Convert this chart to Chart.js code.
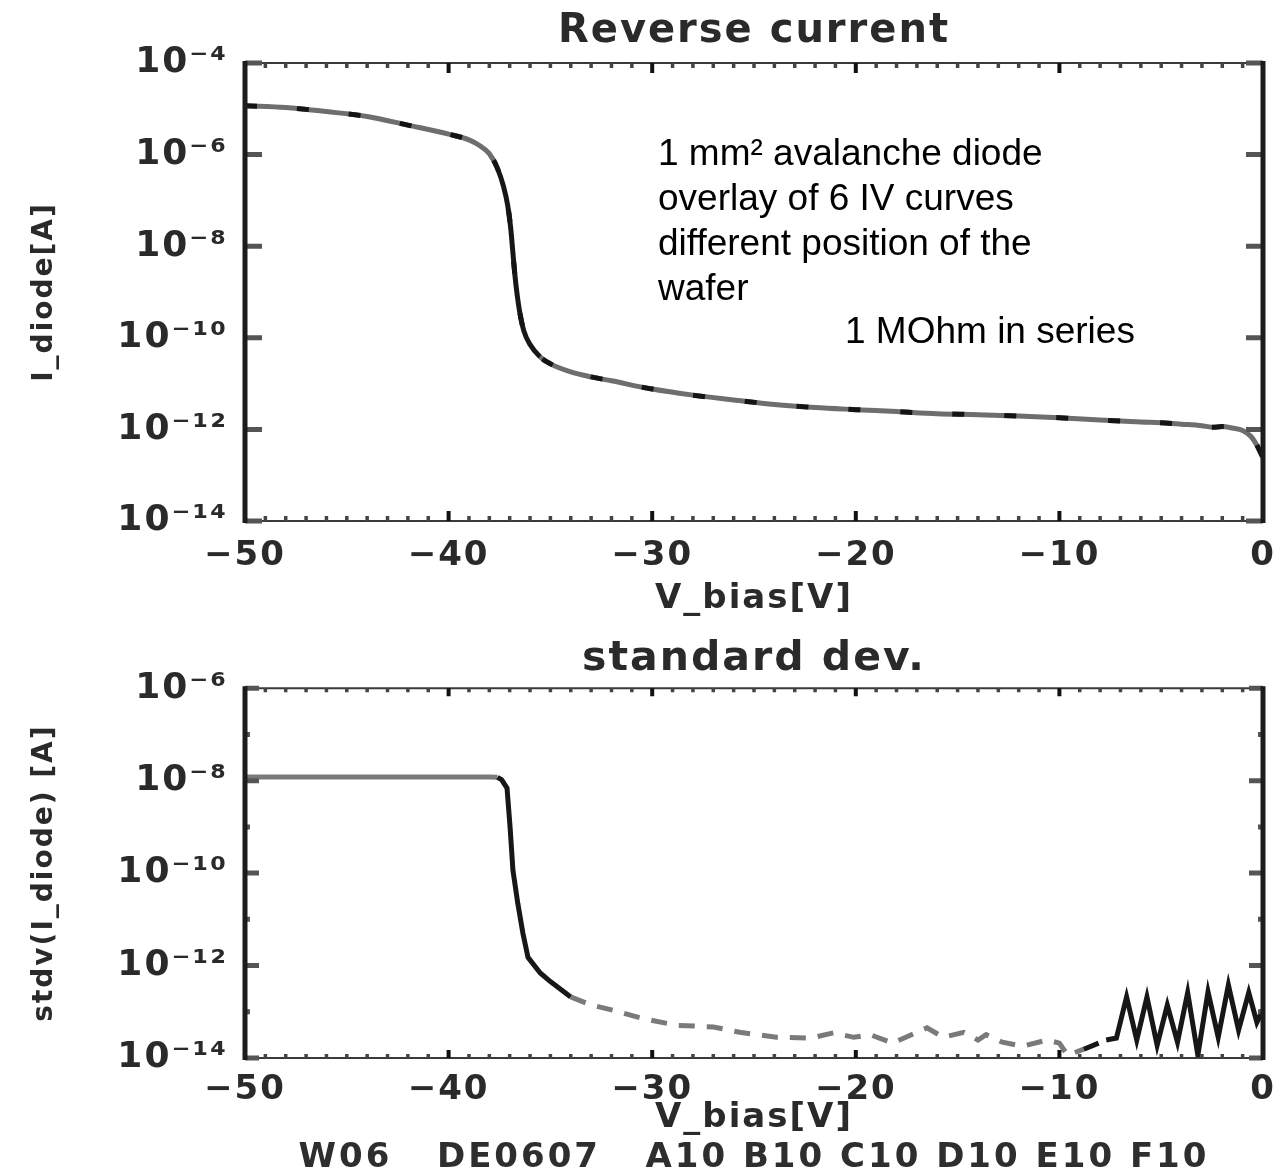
<!DOCTYPE html>
<html>
<head>
<meta charset="utf-8">
<script src="https://cdn.jsdelivr.net/npm/chart.js@4.4.0/dist/chart.umd.min.js"></script>
<style>
  body { margin: 0; background: #fff; }
  #wrap { position: relative; width: 1278px; height: 1173px; }
  #c1 { position: absolute; left: 0; top: 0; }
  #c2 { position: absolute; left: 0; top: 620px; }
  #footer {
    position: absolute; left: 245px; top: 1135px; width: 1018px;
    text-align: center; white-space: pre;
    font: bold 34px "DejaVu Sans"; letter-spacing: 3px; color: #2e2e2e;
  }
</style>
</head>
<body>
<div id="wrap">
  <canvas id="c1" width="1278" height="620"></canvas>
  <canvas id="c2" width="1278" height="553"></canvas>
  <div id="footer">W06   DE0607   A10 B10 C10 D10 E10 F10</div>
</div>
<script>
// Reverse current (overlay of 6 IV curves)
const biasV = [-50, -48, -46, -44, -42, -40, -39, -38.5, -38, -37.6, -37.3, -37.1, -36.95, -36.85,
  -36.75, -36.65, -36.5, -36.3, -36, -35.5, -35, -34, -33, -32, -30, -28, -26, -24, -22, -20,
  -18, -16, -14, -12, -10, -8, -6, -5, -4, -3, -2.5, -2, -1.5, -1, -0.6, -0.3, 0];
const iDiode = [1.17e-5, 1.07e-5, 8.7e-6, 6.8e-6, 4.4e-6, 2.8e-6, 2.1e-6, 1.6e-6, 1.05e-6, 5.0e-7,
  2.0e-7, 7.9e-8, 2.5e-8, 7.9e-9, 2.5e-9, 1.0e-9, 3.5e-10, 1.4e-10, 7.1e-11, 3.8e-11, 2.7e-11,
  1.8e-11, 1.4e-11, 1.15e-11, 7.6e-12, 5.6e-12, 4.4e-12, 3.5e-12, 3.0e-12, 2.7e-12, 2.45e-12,
  2.2e-12, 2.1e-12, 1.95e-12, 1.8e-12, 1.6e-12, 1.45e-12, 1.4e-12, 1.3e-12, 1.2e-12, 1.12e-12,
  1.15e-12, 1.07e-12, 9.5e-13, 7.1e-13, 4.5e-13, 2.4e-13];

// Standard deviation of the 6 curves
const stdV = [-50, -45, -40, -38, -37.6, -37.4, -37.13, -36.98, -36.84, -36.6, -36.35, -36.1,
  -35.5, -35, -34, -33, -32, -30.5, -28.8, -27, -25.7, -23.9, -22.2, -21.1, -20.1, -19.3, -18.2,
  -16.5, -15.7, -14.7, -14, -13.6, -12.8, -11.8, -10.6, -10, -9.6, -8.8, -7.7, -7.2, -6.7, -6.2,
  -5.7, -5.2, -4.7, -4.2, -3.7, -3.2, -2.7, -2.2, -1.7, -1.2, -0.7, -0.3, 0];
const stdDev = [1.2e-8, 1.2e-8, 1.2e-8, 1.2e-8, 1.18e-8, 1.05e-8, 6.9e-9, 9.8e-10, 1.15e-10,
  2.2e-11, 5.0e-12, 1.5e-12, 6.9e-13, 4.5e-13, 2.1e-13, 1.4e-13, 1.1e-13, 7.2e-14, 5.1e-14,
  4.7e-14, 3.6e-14, 2.8e-14, 2.7e-14, 3.5e-14, 2.8e-14, 3.2e-14, 2.1e-14, 4.5e-14, 2.8e-14,
  3.6e-14, 2.45e-14, 3.2e-14, 2.2e-14, 1.8e-14, 2.45e-14, 2.1e-14, 1.15e-14, 1.55e-14, 2.45e-14,
  2.7e-14, 2.1e-13, 2.45e-14, 2.1e-13, 1.9e-14, 1.4e-13, 2.2e-14, 2.6e-13, 1.15e-14, 2.7e-13,
  2.8e-14, 3.8e-13, 4.0e-14, 2.6e-13, 5.9e-14, 1.1e-13];

// axis ticks
const xTicks = [-50, -40, -30, -20, -10, 0];
const topDecades = [-14, -13, -12, -11, -10, -9, -8, -7, -6, -5, -4];
const stdDecades = [-14, -13, -12, -11, -10, -9, -8, -7, -6];

const noteLines = ["1 mm\u00b2 avalanche diode", "overlay of 6 IV curves", "different position of the", "wafer"];
const noteSeries = "1 MOhm in series";

const SUP = { "-": "\u207b", "0": "\u2070", "1": "\u00b9", "2": "\u00b2", "3": "\u00b3", "4": "\u2074",
  "5": "\u2075", "6": "\u2076", "7": "\u2077", "8": "\u2078", "9": "\u2079" };
const powLabel = e => "10" + String(e).split("").map(c => SUP[c]).join("");

const GREY = "#6e6e6e";
const BLACK = "#171717";
const TXT = "#2a2a2a";
const FONT = "DejaVu Sans";

// letter spacing for the blocky axis lettering
const spacing = {
  id: "spacing",
  beforeLayout(chart) { chart.ctx.letterSpacing = "2px"; },
  beforeDraw(chart) { chart.ctx.letterSpacing = "2px"; }
};

// box with inward ticks, thick left/right sides
const frame = {
  id: "frame",
  afterDatasetsDraw(chart, args, opts) {
    const { ctx, chartArea: a, scales: { x, y } } = chart;
    ctx.save();
    ctx.strokeStyle = "#3a3a3a";
    ctx.lineWidth = 2;
    ctx.beginPath();
    ctx.moveTo(a.left, a.top); ctx.lineTo(a.right, a.top);
    ctx.moveTo(a.left, a.bottom); ctx.lineTo(a.right, a.bottom);
    ctx.stroke();
    for (let v = x.min; v <= x.max; v += 1) {
      const px = x.getPixelForValue(v);
      const major = v % 10 === 0;
      const len = major ? opts.xMajor : opts.xMinor;
      ctx.strokeStyle = major ? "#111" : "#444";
      ctx.lineWidth = major ? 4 : 3.5;
      ctx.beginPath();
      ctx.moveTo(px, a.top); ctx.lineTo(px, a.top + len);
      ctx.moveTo(px, a.bottom); ctx.lineTo(px, a.bottom - len);
      ctx.stroke();
    }
    y.ticks.forEach(t => {
      const py = y.getPixelForValue(t.value);
      const even = Math.round(Math.log10(t.value)) % 2 === 0;
      const len = even ? opts.yMajor : opts.yMinor;
      ctx.strokeStyle = "#555";
      ctx.lineWidth = 5;
      ctx.beginPath();
      ctx.moveTo(a.left, py); ctx.lineTo(a.left + len, py);
      ctx.moveTo(a.right, py); ctx.lineTo(a.right - len, py);
      ctx.stroke();
    });
    ctx.strokeStyle = "#1c1c1c";
    ctx.lineWidth = 5;
    ctx.beginPath();
    ctx.moveTo(a.left, a.top - 2); ctx.lineTo(a.left, a.bottom + 2);
    ctx.moveTo(a.right, a.top - 2); ctx.lineTo(a.right, a.bottom + 2);
    ctx.stroke();
    ctx.restore();
  }
};

const notes = {
  id: "notes",
  afterDraw(chart) {
    const ctx = chart.ctx;
    ctx.save();
    ctx.letterSpacing = "0px";
    ctx.font = '37px "Liberation Sans"';
    ctx.fillStyle = "#000";
    ctx.textBaseline = "alphabetic";
    noteLines.forEach((s, i) => ctx.fillText(s, 658, 165 + i * 45));
    ctx.fillText(noteSeries, 845, 343);
    ctx.restore();
  }
};

function xScale(pad, height, titlePad) {
  return {
    type: "linear", min: -50, max: 0,
    afterBuildTicks: s => { s.ticks = xTicks.map(v => ({ value: v })); },
    afterFit: s => { s.height = height; s.paddingLeft = 0; s.paddingRight = 15; },
    grid: { display: false, drawTicks: false },
    border: { display: false },
    ticks: {
      padding: pad, color: TXT, font: { family: FONT, size: 34, weight: "bold" },
      maxRotation: 0,
      callback: v => (v === 0 ? "0" : "\u2212" + Math.abs(v))
    },
    title: { display: true, text: "V_bias[V]", color: TXT,
      font: { family: FONT, size: 34, weight: "bold" }, padding: { top: 0, bottom: titlePad } }
  };
}

function yScale(decades, label) {
  return {
    type: "logarithmic", min: Math.pow(10, decades[0]), max: Math.pow(10, decades[decades.length - 1]),
    afterBuildTicks: s => { s.ticks = decades.map(e => ({ value: Math.pow(10, e) })); },
    afterFit: s => { s.width = 245; },
    grid: { display: false, drawTicks: false },
    border: { display: false },
    ticks: {
      padding: 17, color: TXT, font: { family: FONT, size: 36, weight: "bold" },
      callback: v => {
        const e = Math.round(Math.log10(v));
        return e % 2 === 0 ? powLabel(e) : "";
      }
    },
    title: { display: true, text: label, color: TXT,
      font: { family: FONT, size: 28, weight: "bold" }, padding: { top: 28, bottom: 28 } }
  };
}

const ivPoints = biasV.map((v, i) => ({ x: v, y: iDiode[i] }));

new Chart(document.getElementById("c1"), {
  type: "line",
  data: {
    datasets: [{
      // dashed overlay, drawn on top
      data: ivPoints,
      borderColor: "#141414",
      borderWidth: 5,
      borderDash: [12, 40],
      pointRadius: 0,
      cubicInterpolationMode: "monotone"
    }, {
      data: ivPoints,
      borderColor: GREY,
      borderWidth: 5,
      pointRadius: 0,
      cubicInterpolationMode: "monotone",
      segment: {
        borderColor: c => (c.p0.parsed.x >= -37.9 && c.p1.parsed.x <= -35.4 ? BLACK : undefined)
      }
    }]
  },
  options: {
    responsive: false,
    animation: false,
    layout: { padding: 0 },
    plugins: {
      legend: { display: false },
      tooltip: { enabled: false },
      title: {
        display: true, text: "Reverse current", fullSize: false, color: TXT,
        font: { family: FONT, size: 40, weight: "bold" }, padding: { top: 8, bottom: 7 }
      },
      frame: { xMajor: 10, xMinor: 5, yMajor: 17, yMinor: 5 }
    },
    scales: {
      x: xScale(15, 99, 0),
      y: yScale(topDecades, "I_diode[A]")
    }
  },
  plugins: [spacing, frame, notes]
});

new Chart(document.getElementById("c2"), {
  type: "line",
  data: {
    datasets: [{
      data: stdV.map((v, i) => ({ x: v, y: stdDev[i] })),
      borderColor: "#7a7a7a",
      borderWidth: 5,
      pointRadius: 0,
      tension: 0,
      segment: {
        borderColor: c => {
          const a = c.p0.parsed.x, b = c.p1.parsed.x;
          if (a >= -37.6 && b <= -34) return BLACK;
          if (a >= -8.8) return BLACK;
          return undefined;
        },
        borderDash: c => (c.p0.parsed.x >= -34 && c.p1.parsed.x <= -7.7 ? [16, 12] : undefined)
      }
    }]
  },
  options: {
    responsive: false,
    animation: false,
    layout: { padding: 0 },
    plugins: {
      legend: { display: false },
      tooltip: { enabled: false },
      title: {
        display: true, text: "standard dev.", fullSize: false, color: TXT,
        font: { family: FONT, size: 41, weight: "bold" }, padding: { top: 15, bottom: 4 }
      },
      frame: { xMajor: 8, xMinor: 4, yMajor: 14, yMinor: 5 }
    },
    scales: {
      x: xScale(12, 115, 34),
      y: yScale(stdDecades, "stdv(I_diode) [A]")
    }
  },
  plugins: [spacing, frame]
});
</script>
</body>
</html>
